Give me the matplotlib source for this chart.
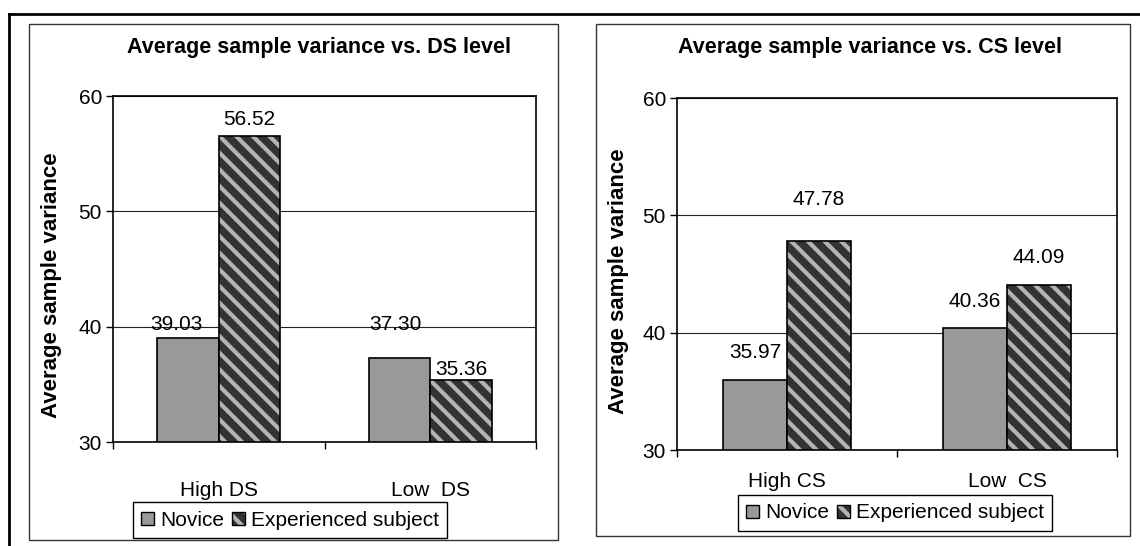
import matplotlib
matplotlib.use("Agg")
import matplotlib.pyplot as plt
import numpy as np
from matplotlib.patches import Rectangle, Patch
from matplotlib.lines import Line2D

# dados
series = ["Novice", "Experienced subject"]

ds_levels = ["High DS", "Low  DS"]
ds_novice = [39.03, 37.30]
ds_experienced = [56.52, 35.36]

cs_levels = ["High CS", "Low  CS"]
cs_novice = [35.97, 40.36]
cs_experienced = [47.78, 44.09]

yticks = [30, 40, 50, 60]

plt.rcParams['font.family'] = ['Liberation Sans', 'DejaVu Sans']
plt.rcParams['hatch.linewidth'] = 3.0

W, H = 1140, 546
fig = plt.figure(figsize=(W / 100, H / 100), dpi=100)

NOVICE_COLOR = '#999999'
EXP_FACE = '#333333'
EXP_STRIPE = '#b4b4b4'
FS = 15


def px_box(x0, y0, x1, y1):
    # retângulo em pixels (origem no topo) -> fração da figura
    return [x0 / W, 1 - y1 / H, (x1 - x0) / W, (y1 - y0) / H]


def draw_panel(rect, title, title_xy, categories, novice, experienced,
               label_dy, label_dx, ylab_x, ylab_y, xpad, legend_xy, box):
    # caixa cinza do gráfico
    fig.patches.append(Rectangle((box[0] / W, 1 - box[3] / H),
                                 (box[2] - box[0]) / W, (box[3] - box[1]) / H,
                                 transform=fig.transFigure, fill=False,
                                 edgecolor='#333333', linewidth=1.0, zorder=0))

    ax = fig.add_axes(px_box(*rect))
    x = np.arange(len(categories))
    w = 0.29

    ax.bar(x - w / 2, [v - 30 for v in novice], w, bottom=30, color=NOVICE_COLOR,
           edgecolor='black', linewidth=1.2, zorder=3)
    # barras hachuradas: fundo + listras, depois contorno preto
    ax.bar(x + w / 2, [v - 30 for v in experienced], w, bottom=30, facecolor=EXP_FACE,
           edgecolor=EXP_STRIPE, hatch='\\\\', linewidth=0, zorder=3)
    ax.bar(x + w / 2, [v - 30 for v in experienced], w, bottom=30, fill=False,
           edgecolor='black', linewidth=1.2, zorder=4)

    # rótulos de valores
    for i in range(len(categories)):
        ax.annotate(f"{novice[i]:.2f}", (x[i] - w / 2, novice[i]),
                    xytext=(label_dx[0][i], label_dy[0][i]), textcoords='offset pixels',
                    ha='center', va='center', fontsize=FS)
        ax.annotate(f"{experienced[i]:.2f}", (x[i] + w / 2, experienced[i]),
                    xytext=(label_dx[1][i], label_dy[1][i]), textcoords='offset pixels',
                    ha='center', va='center', fontsize=FS)

    ax.set_xlim(-0.5, len(categories) - 0.5)
    ax.set_ylim(30, 60)
    ax.set_yticks(yticks)
    ax.tick_params(axis='y', labelsize=FS, length=5, width=1, direction='out', pad=3)
    ax.set_xticks(x)
    ax.set_xticklabels(categories)
    ax.tick_params(axis='x', which='major', length=0, labelsize=FS, pad=xpad)
    ax.set_xticks(np.arange(-0.5, len(categories)), minor=True)
    ax.tick_params(axis='x', which='minor', length=5, width=1, direction='out')
    ax.yaxis.grid(True, color='#222222', linewidth=0.8, zorder=0)
    ax.set_axisbelow(True)
    for s in ax.spines.values():
        s.set_linewidth(1.2)
        s.set_color('black')

    ax.set_ylabel("Average sample variance", fontsize=16, fontweight='bold')
    ax.yaxis.set_label_coords(ylab_x, ylab_y)

    fig.text(title_xy[0] / W, 1 - title_xy[1] / H, title, ha='center', va='center',
             fontsize=15.5, fontweight='bold')

    h_nov = Patch(facecolor=NOVICE_COLOR, edgecolor='black', linewidth=1)
    h_exp = (Patch(facecolor=EXP_FACE, edgecolor=EXP_STRIPE, hatch='\\\\', linewidth=0),
             Patch(fill=False, edgecolor='black', linewidth=1))
    fig.legend([h_nov, h_exp], series, loc='center',
               bbox_to_anchor=(legend_xy[0] / W, 1 - legend_xy[1] / H),
               ncol=2, fontsize=FS, frameon=True, fancybox=False, framealpha=1,
               edgecolor='black', handlelength=0.6, handleheight=0.6,
               handletextpad=0.3, columnspacing=0.4, borderpad=0.4)
    return ax


draw_panel((113, 96, 536, 442), "Average sample variance vs. DS level", (319, 47),
           ds_levels, ds_novice, ds_experienced,
           label_dy=[[13, 33], [17, 11]], label_dx=[[-12, -4], [0, 0]],
           ylab_x=-0.12, ylab_y=0.454, xpad=28, legend_xy=(290, 520),
           box=(29, 24, 558, 540))

draw_panel((677, 98, 1117, 450), "Average sample variance vs. CS level", (870, 47),
           cs_levels, cs_novice, cs_experienced,
           label_dy=[[27, 27], [42, 27]], label_dx=[[0, 0], [0, 0]],
           ylab_x=-0.11, ylab_y=0.48, xpad=16, legend_xy=(895, 513),
           box=(596, 24, 1130, 536))

# bordas externas (tabela)
fig.lines.append(Line2D([9 / W, 1], [1 - 14 / H, 1 - 14 / H], transform=fig.transFigure,
                        color='black', linewidth=2))
fig.lines.append(Line2D([9 / W, 9 / W], [1 - 14 / H, 0], transform=fig.transFigure,
                        color='black', linewidth=2))

fig.savefig("out.png", dpi=100, facecolor='white')
